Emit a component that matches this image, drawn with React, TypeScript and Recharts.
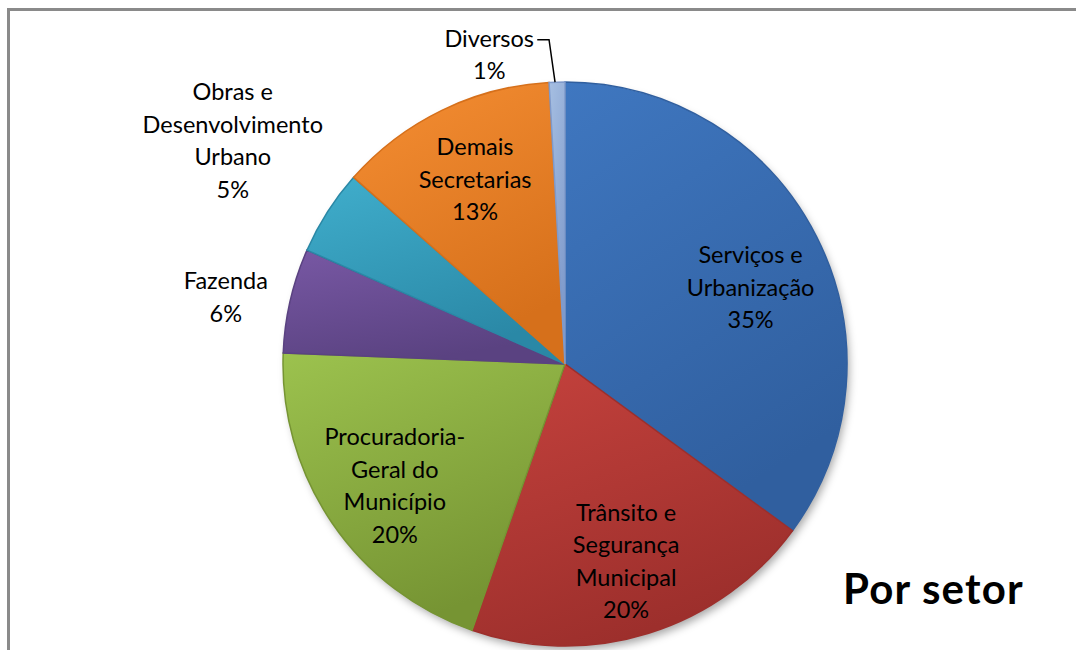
import { Cell, Pie, PieChart } from "recharts";

const CATEGORIES = [
  "Serviços e Urbanização",
  "Trânsito e Segurança Municipal",
  "Procuradoria-Geral do Município",
  "Fazenda",
  "Obras e Desenvolvimento Urbano",
  "Demais Secretarias",
  "Diversos",
];
const SHARES = [35.1, 20.3, 20.3, 6.0, 4.9, 12.6, 0.9];

// [light, dark] pairs for the bevel-ish gradient
const COLORS: [string, string][] = [
  ["#3f77c0", "#305f9f"],
  ["#c5423d", "#9d2f2c"],
  ["#9cc24e", "#769433"],
  ["#7858a4", "#5a4281"],
  ["#40aecc", "#2a88a6"],
  ["#f58e33", "#d6701b"],
  ["#a6bfe2", "#7f9acb"],
];

const FONT = "Lato, 'Open Sans', sans-serif";
const LINE_HEIGHT = 32.5;
const RAD = Math.PI / 180;

// nudges for labels; anything not listed sits inside at 0.73 R
const LABEL_PLACEMENT: Record<string, { r: number; dx: number; dy: number; leader?: boolean }> = {
  "Serviços e Urbanização": { r: 0.73, dx: 2, dy: 16 },
  "Procuradoria-Geral do Município": { r: 0.73, dx: 0, dy: 5 },
  Fazenda: { r: 1.22, dx: -4, dy: 10 },
  "Obras e Desenvolvimento Urbano": { r: 1.42, dx: 5, dy: -8 },
  Diversos: { r: 1.1, dx: -67, dy: 0, leader: true },
};

const data = CATEGORIES.map((name, i) => ({ name, value: SHARES[i] }));

function wrapLabel(text: string, maxChars = 11) {
  const tokens: { word: string; glue: string }[] = [];
  text.split(" ").forEach((w) => {
    const parts = w.split(/(?<=-)/);
    parts.forEach((p, j) => tokens.push({ word: p, glue: j === 0 ? " " : "" }));
  });
  const lines: string[] = [];
  let cur = "";
  tokens.forEach(({ word, glue }) => {
    if (!cur) {
      cur = word;
    } else if (cur.endsWith("-") || (cur + glue + word).length > maxChars) {
      lines.push(cur);
      cur = word;
    } else {
      cur = cur + glue + word;
    }
  });
  if (cur) lines.push(cur);
  return lines;
}

const renderLabel = (props: any) => {
  const { cx, cy, midAngle, outerRadius, percent, index } = props;
  const name = CATEGORIES[index];
  const lines = [...wrapLabel(name), `${Math.round(percent * 100)}%`];
  const place = LABEL_PLACEMENT[name] ?? { r: 0.73, dx: 0, dy: 0 };
  const a = -midAngle * RAD;
  const x = cx + outerRadius * place.r * Math.cos(a) + place.dx;
  const y = cy + outerRadius * place.r * Math.sin(a) + place.dy;
  const top = y - ((lines.length - 1) * LINE_HEIGHT) / 2;

  let leader = null;
  if (place.leader) {
    const ex = cx + outerRadius * Math.cos(a);
    const ey = cy + outerRadius * Math.sin(a);
    const ly = top + 2;
    leader = (
      <polyline
        points={`${x + 48},${ly} ${ex - 8},${ly} ${ex - 2},${ey}`}
        fill="none"
        stroke="#000"
        strokeWidth={1.5}
      />
    );
  }

  return (
    <g key={`lbl-${index}`}>
      {leader}
      <text x={x} textAnchor="middle" fill="#000" fontFamily={FONT} fontSize={23.5}>
        {lines.map((l, i) => (
          <tspan key={i} x={x} y={top + i * LINE_HEIGHT} dominantBaseline="central">
            {l}
          </tspan>
        ))}
      </text>
    </g>
  );
};

export default function App() {
  return (
    <div
      style={{
        position: "fixed",
        left: 0,
        top: 0,
        width: 1076,
        height: 650,
        overflow: "hidden",
        background: "#fff",
      }}
    >
      <div
        style={{
          position: "absolute",
          left: 7,
          top: 8,
          width: 1200,
          height: 800,
          border: "3px solid #8a8a8a",
        }}
      />
      <div style={{ position: "absolute", left: 0, top: 0 }}>
        <PieChart width={1076} height={650}>
          <defs>
            {COLORS.map(([light, dark], i) => (
              <linearGradient key={i} id={`slice-${i}`} x1="0" y1="0" x2="0.4" y2="1">
                <stop offset="0%" stopColor={light} />
                <stop offset="100%" stopColor={dark} />
              </linearGradient>
            ))}
            <filter id="pie-shadow" x="-10%" y="-10%" width="120%" height="120%">
              <feDropShadow dx={3} dy={5} stdDeviation={4} floodColor="#000" floodOpacity={0.35} />
            </filter>
          </defs>
          <Pie
            data={[{ name: "shadow", value: 1 }]}
            dataKey="value"
            cx={560}
            cy={359}
            outerRadius={281}
            startAngle={90}
            endAngle={-270}
            stroke="none"
            isAnimationActive={false}
          >
            <Cell fill="#fff" style={{ filter: "url(#pie-shadow)" }} />
          </Pie>
          <Pie
            data={data}
            dataKey="value"
            nameKey="name"
            cx={560}
            cy={359}
            outerRadius={282}
            startAngle={90}
            endAngle={-270}
            label={renderLabel}
            labelLine={false}
            isAnimationActive={false}
          >
            {data.map((d, i) => (
              <Cell
                key={d.name}
                fill={`url(#slice-${i})`}
                stroke={COLORS[i][1]}
                strokeWidth={1.5}
              />
            ))}
          </Pie>
        </PieChart>
      </div>
      <div
        style={{
          position: "absolute",
          left: 843,
          top: 563,
          fontFamily: FONT,
          fontWeight: 700,
          fontSize: 42,
          letterSpacing: 1.2,
          color: "#000",
          lineHeight: "50px",
          whiteSpace: "nowrap",
        }}
      >
        Por setor
      </div>
    </div>
  );
}
